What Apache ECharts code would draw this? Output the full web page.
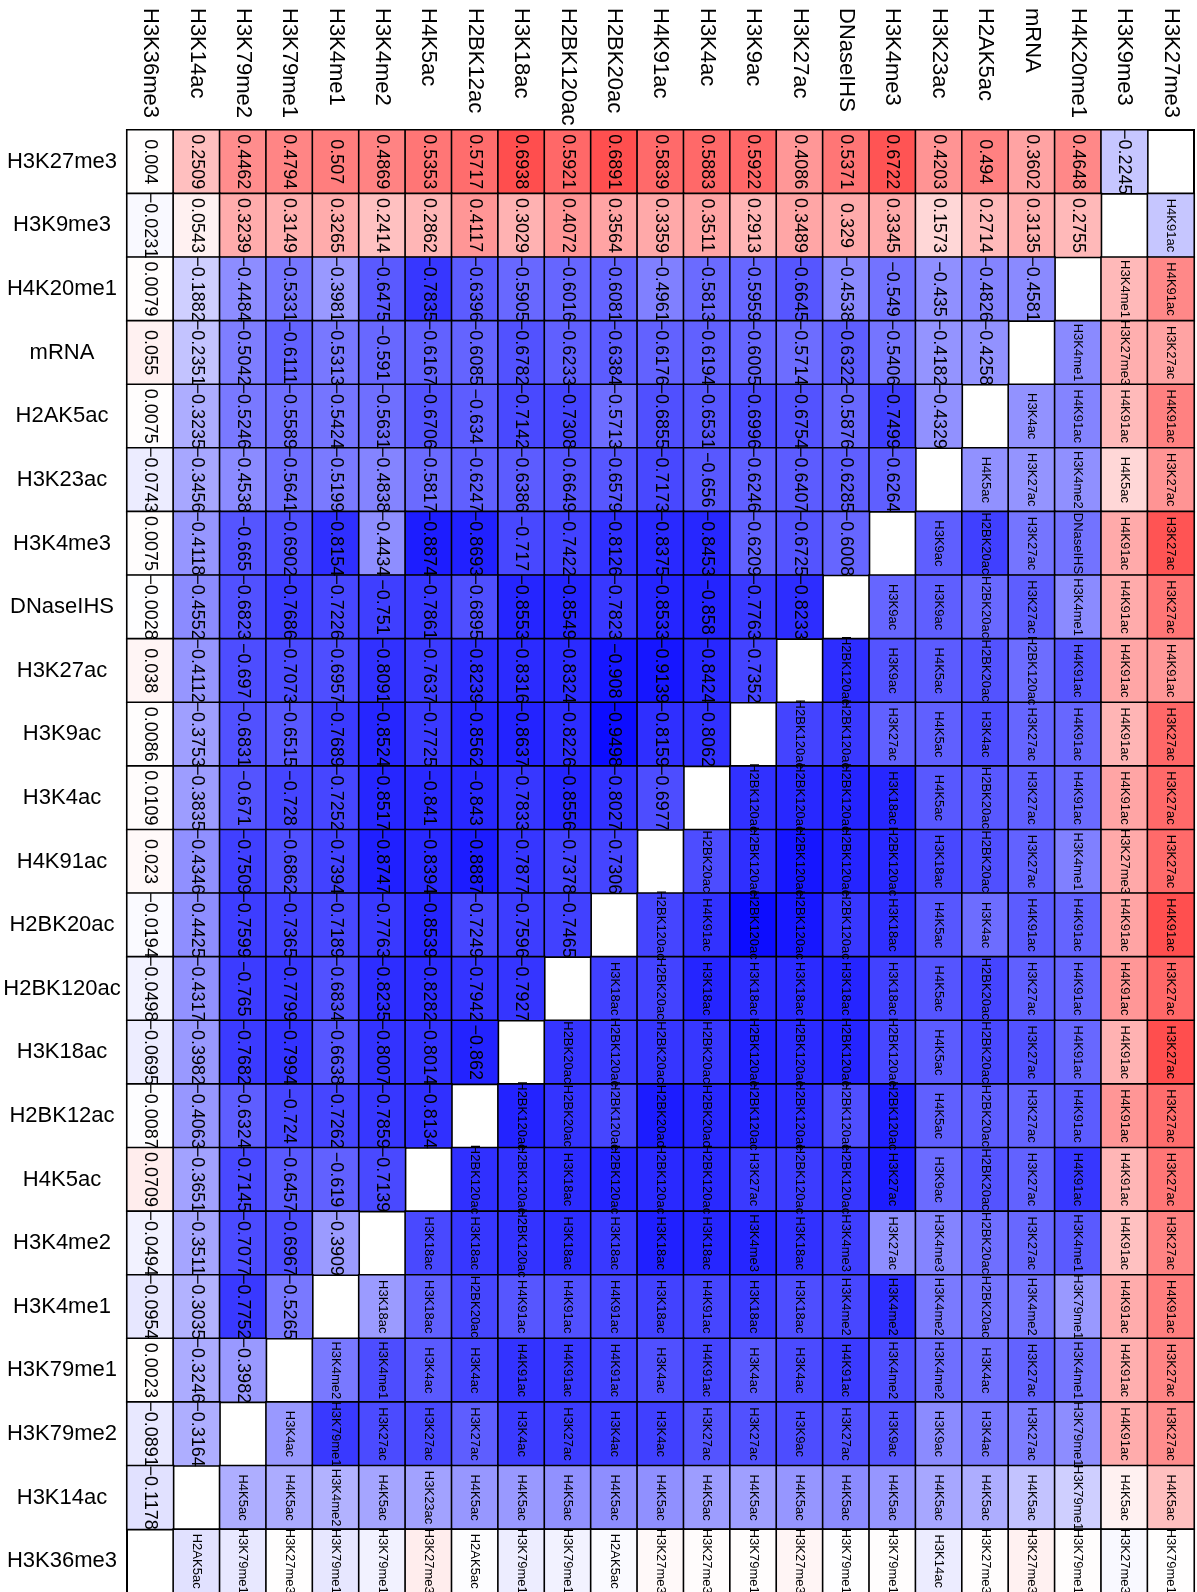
<!DOCTYPE html>
<html>
<head>
<meta charset="utf-8">
<title>Correlation heatmap</title>
<script src="https://cdn.jsdelivr.net/npm/echarts@6/dist/echarts.min.js"></script>
<style>
html, body { margin: 0; padding: 0; background: #fff; }
#main { width: 1197px; height: 1592px; }
</style>
</head>
<body>
<div id="main"></div>
<script>
// row labels, top to bottom
var rowNames = ['H3K27me3', 'H3K9me3', 'H4K20me1', 'mRNA', 'H2AK5ac', 'H3K23ac', 'H3K4me3', 'DNaseIHS',
	'H3K27ac', 'H3K9ac', 'H3K4ac', 'H4K91ac', 'H2BK20ac', 'H2BK120ac', 'H3K18ac', 'H2BK12ac',
	'H4K5ac', 'H3K4me2', 'H3K4me1', 'H3K79me1', 'H3K79me2', 'H3K14ac', 'H3K36me3'];
// column labels, left to right
var colNames = ['H3K36me3', 'H3K14ac', 'H3K79me2', 'H3K79me1', 'H3K4me1', 'H3K4me2', 'H4K5ac', 'H2BK12ac',
	'H3K18ac', 'H2BK120ac', 'H2BK20ac', 'H4K91ac', 'H3K4ac', 'H3K9ac', 'H3K27ac', 'DNaseIHS',
	'H3K4me3', 'H3K23ac', 'H2AK5ac', 'mRNA', 'H4K20me1', 'H3K9me3', 'H3K27me3'];

// upper-left triangle: correlation, one list per row (from column 0)
var corr = [
	[0.004, 0.2509, 0.4462, 0.4794, 0.507, 0.4869, 0.5353, 0.5717, 0.6938, 0.5921, 0.6891, 0.5839, 0.5883, 0.5922, 0.4086, 0.5371, 0.6722, 0.4203, 0.494, 0.3602, 0.4648, -0.2245],
	[-0.0231, 0.0543, 0.3239, 0.3149, 0.3265, 0.2414, 0.2862, 0.4117, 0.3029, 0.4072, 0.3564, 0.3359, 0.3511, 0.2913, 0.3489, 0.329, 0.3345, 0.1573, 0.2714, 0.3135, 0.2755],
	[0.0079, -0.1882, -0.4484, -0.5331, -0.3981, -0.6475, -0.7835, -0.6396, -0.5905, -0.6016, -0.6081, -0.4961, -0.5813, -0.5959, -0.6645, -0.4538, -0.549, -0.435, -0.4826, -0.4581],
	[0.055, -0.2351, -0.5042, -0.6111, -0.5313, -0.591, -0.6167, -0.6085, -0.6782, -0.6233, -0.6384, -0.6176, -0.6194, -0.6005, -0.5714, -0.6322, -0.5406, -0.4182, -0.4258],
	[0.0075, -0.3235, -0.5246, -0.5589, -0.5424, -0.5631, -0.6706, -0.634, -0.7142, -0.7308, -0.5713, -0.6855, -0.6531, -0.6996, -0.6754, -0.5876, -0.7499, -0.4329],
	[-0.0743, -0.3456, -0.4538, -0.5641, -0.5199, -0.4838, -0.5817, -0.6247, -0.6386, -0.6649, -0.6579, -0.7173, -0.656, -0.6246, -0.6407, -0.6285, -0.6264],
	[0.0075, -0.4118, -0.665, -0.6902, -0.8154, -0.4434, -0.8874, -0.8693, -0.717, -0.7422, -0.8126, -0.8375, -0.8453, -0.6209, -0.6725, -0.6008],
	[-0.0028, -0.4552, -0.6823, -0.7686, -0.7226, -0.751, -0.7861, -0.6895, -0.8553, -0.8549, -0.7823, -0.8533, -0.858, -0.7763, -0.8233],
	[0.038, -0.4112, -0.697, -0.7073, -0.6957, -0.8091, -0.7637, -0.8239, -0.8316, -0.8324, -0.908, -0.9139, -0.8424, -0.7352],
	[0.0086, -0.3753, -0.6831, -0.6515, -0.7689, -0.8524, -0.7725, -0.8562, -0.8637, -0.8226, -0.9498, -0.8159, -0.8062],
	[0.0109, -0.3835, -0.671, -0.728, -0.7252, -0.8517, -0.841, -0.843, -0.7833, -0.8556, -0.8027, -0.6977],
	[0.023, -0.4346, -0.7509, -0.6862, -0.7394, -0.8747, -0.8394, -0.8887, -0.7877, -0.7378, -0.7306],
	[-0.0194, -0.4425, -0.7599, -0.7365, -0.7189, -0.7763, -0.8539, -0.7249, -0.7596, -0.7465],
	[-0.0498, -0.4317, -0.765, -0.7799, -0.6834, -0.8235, -0.8282, -0.7942, -0.7927],
	[-0.0695, -0.3982, -0.7682, -0.7994, -0.6638, -0.8007, -0.8014, -0.862],
	[-0.0087, -0.4063, -0.6324, -0.724, -0.7262, -0.7859, -0.8134],
	[0.0709, -0.3651, -0.7145, -0.6457, -0.619, -0.7139],
	[-0.0494, -0.3511, -0.7077, -0.6967, -0.3909],
	[-0.0954, -0.3035, -0.7752, -0.5265],
	[0.0023, -0.3246, -0.3982],
	[-0.0891, -0.3164],
	[-0.1178],
	[]
];

// lower-right triangle: mark names, one list per row (right of the empty diagonal cell)
var mediator = [
	[],
	['H4K91ac'],
	['H3K4me1', 'H4K91ac'],
	['H3K4me1', 'H3K27me3', 'H3K27ac'],
	['H3K4ac', 'H4K91ac', 'H4K91ac', 'H4K91ac'],
	['H4K5ac', 'H3K27ac', 'H3K4me2', 'H4K5ac', 'H3K27ac'],
	['H3K9ac', 'H2BK20ac', 'H3K27ac', 'DNaseIHS', 'H4K91ac', 'H3K27ac'],
	['H3K9ac', 'H3K9ac', 'H2BK20ac', 'H3K27ac', 'H3K4me1', 'H4K91ac', 'H3K27ac'],
	['H2BK120ac', 'H3K9ac', 'H4K5ac', 'H2BK20ac', 'H2BK120ac', 'H4K91ac', 'H4K91ac', 'H4K91ac'],
	['H2BK120ac', 'H2BK120ac', 'H3K27ac', 'H4K5ac', 'H3K4ac', 'H3K27ac', 'H4K91ac', 'H4K91ac', 'H3K27ac'],
	['H2BK120ac', 'H2BK120ac', 'H2BK120ac', 'H3K18ac', 'H4K5ac', 'H2BK20ac', 'H3K27ac', 'H4K91ac', 'H4K91ac', 'H3K27ac'],
	['H2BK20ac', 'H2BK120ac', 'H2BK120ac', 'H2BK120ac', 'H2BK120ac', 'H3K18ac', 'H2BK20ac', 'H3K27ac', 'H3K4me1', 'H3K27me3', 'H3K27ac'],
	['H2BK120ac', 'H4K91ac', 'H2BK120ac', 'H2BK120ac', 'H2BK120ac', 'H3K18ac', 'H4K5ac', 'H3K4ac', 'H4K91ac', 'H4K91ac', 'H4K91ac', 'H4K91ac'],
	['H3K18ac', 'H2BK20ac', 'H3K18ac', 'H3K18ac', 'H3K18ac', 'H3K18ac', 'H3K18ac', 'H4K5ac', 'H2BK20ac', 'H3K27ac', 'H4K91ac', 'H4K91ac', 'H3K27ac'],
	['H2BK20ac', 'H2BK120ac', 'H2BK20ac', 'H2BK20ac', 'H2BK120ac', 'H2BK120ac', 'H2BK120ac', 'H2BK120ac', 'H4K5ac', 'H2BK20ac', 'H3K27ac', 'H4K91ac', 'H4K91ac', 'H3K27ac'],
	['H2BK120ac', 'H2BK20ac', 'H2BK120ac', 'H2BK20ac', 'H2BK20ac', 'H2BK120ac', 'H2BK120ac', 'H2BK120ac', 'H2BK120ac', 'H4K5ac', 'H2BK20ac', 'H3K27ac', 'H4K91ac', 'H4K91ac', 'H3K27ac'],
	['H2BK120ac', 'H2BK120ac', 'H3K18ac', 'H2BK120ac', 'H2BK120ac', 'H2BK120ac', 'H3K27ac', 'H2BK120ac', 'H2BK120ac', 'H3K27ac', 'H3K9ac', 'H2BK20ac', 'H3K27ac', 'H4K91ac', 'H4K91ac', 'H3K27ac'],
	['H3K18ac', 'H3K18ac', 'H2BK120ac', 'H3K18ac', 'H3K18ac', 'H3K18ac', 'H3K18ac', 'H3K4me3', 'H3K18ac', 'H3K4me3', 'H3K27ac', 'H3K4me3', 'H2BK20ac', 'H3K27ac', 'H3K4me1', 'H4K91ac', 'H3K27ac'],
	['H3K18ac', 'H3K18ac', 'H2BK20ac', 'H4K91ac', 'H4K91ac', 'H4K91ac', 'H3K18ac', 'H4K91ac', 'H3K18ac', 'H3K18ac', 'H3K4me2', 'H3K4me2', 'H3K4me2', 'H2BK20ac', 'H3K4me2', 'H3K79me1', 'H4K91ac', 'H4K91ac'],
	['H3K4me2', 'H3K4me1', 'H3K4ac', 'H3K4ac', 'H4K91ac', 'H4K91ac', 'H4K91ac', 'H3K4ac', 'H4K91ac', 'H3K4ac', 'H3K4ac', 'H4K91ac', 'H3K4me2', 'H3K4me2', 'H3K4ac', 'H3K27ac', 'H3K4me1', 'H4K91ac', 'H3K27ac'],
	['H3K4ac', 'H3K79me1', 'H3K27ac', 'H3K27ac', 'H3K27ac', 'H3K4ac', 'H3K27ac', 'H3K4ac', 'H3K4ac', 'H3K27ac', 'H3K27ac', 'H3K9ac', 'H3K27ac', 'H3K9ac', 'H3K9ac', 'H3K4ac', 'H3K27ac', 'H3K79me1', 'H4K91ac', 'H3K27ac'],
	['H4K5ac', 'H4K5ac', 'H3K4me2', 'H4K5ac', 'H3K23ac', 'H4K5ac', 'H4K5ac', 'H4K5ac', 'H4K5ac', 'H4K5ac', 'H4K5ac', 'H4K5ac', 'H4K5ac', 'H4K5ac', 'H4K5ac', 'H4K5ac', 'H4K5ac', 'H4K5ac', 'H3K79me1', 'H4K5ac', 'H4K5ac'],
	['H2AK5ac', 'H3K79me1', 'H3K27me3', 'H3K79me1', 'H3K79me1', 'H3K27me3', 'H2AK5ac', 'H3K79me1', 'H3K79me1', 'H2AK5ac', 'H3K27me3', 'H3K27me3', 'H3K79me1', 'H3K27me3', 'H3K79me1', 'H3K79me1', 'H3K14ac', 'H3K27me3', 'H3K27me3', 'H3K79me1', 'H3K27me3', 'H3K79me1']
];

var FONT = '"Liberation Sans", Arial, Helvetica, sans-serif';

function fmtNum(v) {
	return String(v).replace('-', '\u2212');
}

var n = rowNames.length;
var cells = [];
rowNames.forEach(function(rn, r) {
	corr[r].forEach(function(v, c) {
		cells.push({ value: [c, r, v], txt: fmtNum(v), label: { fontSize: 18 } });
	});
	// the lower cells take the colour of the mirrored correlation
	mediator[r].forEach(function(m, k) {
		var c = n - r + k;
		cells.push({ value: [c, r, corr[n - 1 - c][n - 1 - r]], txt: m, label: { fontSize: 13 } });
	});
});

var chart = echarts.init(document.getElementById('main'), null, { renderer: 'canvas' });
var option = {
	backgroundColor: '#fff',
	animation: false,
	textStyle: { fontFamily: FONT },
	grid: {
		left: 127,
		top: 130,
		width: 1067,
		height: 1463,
		containLabel: false,
		outerBoundsMode: 'none',
		show: true,
		borderColor: '#000',
		borderWidth: 2,
		backgroundColor: 'transparent'
	},
	xAxis: {
		type: 'category',
		position: 'top',
		data: colNames,
		axisLine: { show: false },
		axisTick: { show: false },
		splitLine: { show: false },
		axisLabel: {
			interval: 0,
			rotate: 90,
			margin: 3,
			color: '#000',
			fontFamily: FONT,
			// fixed-width box so every name starts at the same top line
			formatter: function(v) { return '{t|' + v + '}'; },
			rich: {
				t: { width: 119, align: 'left', fontSize: 22, color: '#000', fontFamily: FONT }
			}
		}
	},
	yAxis: {
		type: 'category',
		data: rowNames,
		inverse: true,
		axisLine: { show: false },
		axisTick: { show: false },
		splitLine: { show: false },
		axisLabel: {
			interval: 0,
			align: 'center',
			margin: 65,
			fontSize: 22,
			color: '#000',
			fontFamily: FONT
		}
	},
	visualMap: {
		show: false,
		type: 'continuous',
		min: -1,
		max: 1,
		dimension: 2,
		inRange: { color: ['#0000ff', '#ffffff', '#ff0000'] }
	},
	series: [{
		type: 'heatmap',
		data: cells,
		itemStyle: { borderColor: '#000', borderWidth: 1.6 },
		label: {
			show: true,
			rotate: -90,
			color: '#000',
			fontFamily: FONT,
			formatter: function(p) { return p.data.txt; }
		},
		emphasis: { disabled: true }
	}]
};
chart.setOption(option);
</script>
</body>
</html>
